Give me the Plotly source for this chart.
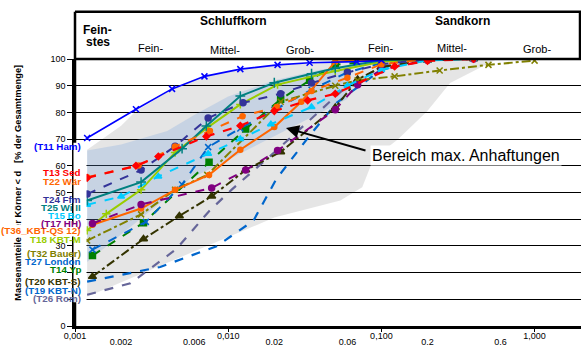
import plotly.graph_objects as go
import numpy as np

# ---------------- data ----------------
series_names = ["T11 Ham", "T13 Sed", "T22 Wär", "T24 Ffm", "T25 Wi II", "T15 Bo", "T17 HH",
                "T36_KBT-QS 12", "T18 KBT-M", "T32 Bauer", "T27 London", "T14 Yp",
                "T20 KBT-S", "T19 KBT-N", "T26 Rom"]

t11_d = [0.0012, 0.0025, 0.0043, 0.007, 0.012, 0.021, 0.034, 0.069, 0.1]
t11_p = [70.4, 81.2, 88.8, 93.5, 96.2, 97.8, 98.6, 99.0, 99.5]
t13_d = [0.0012, 0.0025, 0.0035, 0.0072, 0.012, 0.02, 0.033, 0.05, 0.122, 0.2, 0.4]
t13_p = [55.5, 60, 63.5, 71, 75, 80.5, 84.5, 87, 97.2, 99.3, 100]
t22_d = [0.0012, 0.0026, 0.0045, 0.0076, 0.0124, 0.0207, 0.035, 0.06, 0.1, 0.2]
t22_p = [55.7, 60.1, 67.2, 73, 78.6, 82, 88, 93, 98, 100]
t24_d = [0.0012, 0.0027, 0.0045, 0.0074, 0.0125, 0.022, 0.035, 0.06, 0.1, 0.2]
t24_p = [49.4, 58.4, 67.3, 77.9, 83.6, 87, 91, 95, 98, 100]
t25_d = [0.0012, 0.0027, 0.005, 0.0072, 0.012, 0.02, 0.035, 0.05, 0.1, 0.2]
t25_p = [47, 53.9, 66.4, 74.9, 86.1, 91.1, 94.5, 96.5, 99.5, 100]
t15_d = [0.0012, 0.002, 0.0035, 0.0074, 0.012, 0.019, 0.035, 0.06, 0.1, 0.2, 0.4]
t15_p = [45.4, 48.5, 56, 64.5, 70, 75.6, 82, 90, 96, 99.5, 100]
t17_d = [0.0013, 0.0027, 0.0078, 0.013, 0.021, 0.05, 0.07, 0.1, 0.2, 0.4]
t17_p = [38.4, 45.5, 51.7, 58.4, 65.7, 81, 90.4, 96, 99.5, 100]
t36_d = [0.0013, 0.0027, 0.0045, 0.0075, 0.012, 0.02, 0.03, 0.05, 0.1]
t36_p = [37.9, 44, 51, 56.6, 66, 74.5, 84, 99, 100]
t18_d = [0.0012, 0.0016, 0.0027, 0.0045, 0.0072, 0.012, 0.021, 0.05, 0.1, 0.2]
t18_p = [35.8, 42, 51, 65, 74, 83, 90.4, 95.5, 99, 100]
t32_d = [0.0012, 0.0027, 0.0045, 0.0073, 0.022, 0.05, 0.07, 0.122, 0.24, 0.5, 1.0]
t32_p = [32, 41.8, 51, 56.6, 84, 90, 92, 93.5, 95.7, 97.8, 99.4]
t27_d = [0.0013, 0.0029, 0.005, 0.0074, 0.012, 0.02, 0.035, 0.06, 0.1, 0.2]
t27_p = [28.6, 39, 53, 67, 74, 81, 88.5, 95, 98.5, 100]
t14_d = [0.0013, 0.0028, 0.0075, 0.013, 0.022, 0.034, 0.05, 0.1, 0.2]
t14_p = [26.4, 38.7, 61.3, 73.8, 84.9, 92, 97.8, 99.5, 100]
t20_d = [0.0013, 0.0028, 0.0048, 0.0078, 0.013, 0.022, 0.05, 0.07, 0.1, 0.2, 0.4]
t20_p = [18.5, 32.6, 41.2, 48.6, 58.4, 65.2, 81.8, 92.3, 97, 99.5, 100]
t19_d = [0.0012, 0.0036, 0.0084, 0.0146, 0.0206, 0.034, 0.051, 0.1, 0.2]
t19_p = [16.6, 22.1, 29.9, 39.4, 55, 71.3, 83.6, 96, 100]
t26_d = [0.0012, 0.0023, 0.0039, 0.0046, 0.0075, 0.0105, 0.02, 0.06, 0.1, 0.2]
t26_p = [11.7, 16, 25.8, 28.9, 43, 51, 65, 90, 97, 100]

# envelope "Bereich max. Anhaftungen"
env_hi_d = [0.0012, 0.002, 0.0025, 0.0043, 0.007, 0.012, 0.021, 0.034, 0.07, 0.1, 0.2, 0.57]
env_hi_p = [66, 75, 80.5, 88.6, 93.3, 96, 97.6, 98.4, 98.9, 99.6, 100, 100]
env_lo_d = [0.0012, 0.02, 0.054, 0.075, 0.089, 0.129, 0.199, 0.281, 0.57]
env_lo_p = [11, 40.6, 47, 52, 62.7, 70, 80.4, 91, 100]
band_hi_d = [0.0012, 0.002, 0.004, 0.006, 0.01, 0.02, 0.04, 0.06]
band_hi_p = [65.7, 68, 73, 79, 86, 92, 96, 97.5]
band_lo_d = [0.0012, 0.0056, 0.02, 0.06]
band_lo_p = [24, 55, 71, 85]

x_major_ticks = [0.001, 0.01, 0.1, 1.0]
x_major_text = ["0,001", "0,010", "0,100", "1,000"]
x_minor_ticks = [0.002, 0.006, 0.02, 0.06, 0.2, 0.6, 2]
x_minor_text = ["0.002", "0.006", "0.02", "0.06", "0.2", "0.6", "2"]
y_ticks = [0, 10, 20, 30, 40, 50, 60, 70, 80, 90, 100]
y_text = ["0", "", "", "30", "", "50", "60", "70", "80", "90", "100"]

# ---------------- styles ----------------
FONT = "Liberation Sans, Arial, sans-serif"
W, H = 581, 347
ML, MR, MT, MB = 75, 0, 59, 17
PW, PH = W - ML - MR, H - MT - MB

def px2paper_x(px):
    return (px - ML) / PW

def px2paper_y(py):
    return (H - MB - py) / PH

styles = {
    "T11 Ham":       dict(color="#0000FF", dash="solid", symbol="x-thin", width=1.6, size=6),
    "T13 Sed":       dict(color="#FF0000", dash="dash", symbol="diamond", width=2.2, size=5),
    "T22 Wär":       dict(color="#FF6600", dash="dash", symbol="circle", width=2.0, size=5),
    "T24 Ffm":       dict(color="#333399", dash="dash", symbol="circle", width=2.0, size=6),
    "T25 Wi II":     dict(color="#008080", dash="solid", symbol="cross-thin", width=2.0, size=7),
    "T15 Bo":        dict(color="#00CCFF", dash="dash", symbol="triangle-up", width=2.0, size=6),
    "T17 HH":        dict(color="#800080", dash="dash", symbol="circle", width=2.0, size=6),
    "T36_KBT-QS 12": dict(color="#FF6600", dash="solid", symbol="circle", width=2.0, size=5),
    "T18 KBT-M":     dict(color="#99CC00", dash="solid", symbol="cross-thin", width=2.0, size=6),
    "T32 Bauer":     dict(color="#808000", dash="dashdot", symbol="x-thin", width=2.0, size=6),
    "T27 London":    dict(color="#0066CC", dash="dash", symbol="x-thin", width=2.0, size=6),
    "T14 Yp":        dict(color="#008000", dash="dash", symbol="square", width=2.0, size=6),
    "T20 KBT-S":     dict(color="#333300", dash="dashdot", symbol="triangle-up", width=2.0, size=7),
    "T19 KBT-N":     dict(color="#0066CC", dash="dash", symbol=None, width=2.2, size=0),
    "T26 Rom":       dict(color="#666699", dash="dash", symbol=None, width=2.2, size=0),
}
series_data = {
    "T11 Ham": (t11_d, t11_p), "T13 Sed": (t13_d, t13_p), "T22 Wär": (t22_d, t22_p),
    "T24 Ffm": (t24_d, t24_p), "T25 Wi II": (t25_d, t25_p), "T15 Bo": (t15_d, t15_p),
    "T17 HH": (t17_d, t17_p), "T36_KBT-QS 12": (t36_d, t36_p), "T18 KBT-M": (t18_d, t18_p),
    "T32 Bauer": (t32_d, t32_p), "T27 London": (t27_d, t27_p), "T14 Yp": (t14_d, t14_p),
    "T20 KBT-S": (t20_d, t20_p), "T19 KBT-N": (t19_d, t19_p), "T26 Rom": (t26_d, t26_p),
}
label_text = {"T11 Ham": "(T11 Ham)", "T17 HH": "(T17 HH)", "T36_KBT-QS 12": "(T36_KBT-QS 12)",
              "T32 Bauer": "(T32 Bauer)", "T20 KBT-S": "(T20 KBT-S)", "T19 KBT-N": "(T19 KBT-N)",
              "T26 Rom": "(T26 Rom)"}
label_y_px = dict(zip(series_names, [148.3, 174.3, 183.3, 201.7, 210, 218.3, 226, 233.3, 241.7,
                                     256.7, 264.3, 272.7, 285.3, 294, 301.7]))

fig = go.Figure()

fig.add_trace(go.Scatter(x=env_hi_d + env_lo_d[::-1], y=env_hi_p + env_lo_p[::-1], fill="toself",
                         fillcolor="rgba(0,0,0,0.10)", line=dict(width=0), mode="lines",
                         hoverinfo="skip", showlegend=False))
fig.add_trace(go.Scatter(x=band_hi_d + band_lo_d[::-1], y=band_hi_p + band_lo_p[::-1], fill="toself",
                         fillcolor="rgba(110,158,222,0.25)", line=dict(width=0), mode="lines",
                         hoverinfo="skip", showlegend=False))

for name in series_names[::-1]:
    d, p = series_data[name]
    st = styles[name]
    if st["symbol"]:
        mode = "lines+markers"
        marker = dict(symbol=st["symbol"], size=st["size"], color=st["color"],
                      line=dict(color=st["color"], width=1.5))
    else:
        mode = "lines"
        marker = None
    fig.add_trace(go.Scatter(x=d, y=p, mode=mode, name=name,
                             line=dict(color=st["color"], dash=st["dash"], width=st["width"]),
                             marker=marker, showlegend=False, hoverinfo="skip"))

fig.add_trace(go.Scatter(x=[0.01], y=[-10], xaxis="x2", mode="markers",
                         marker=dict(opacity=0), showlegend=False, hoverinfo="skip"))

shapes = []
black_thin = [0.007, 0.008, 0.01, 0.03, 0.07, 0.3]
black_bold = [0.006, 0.02, 0.2, 0.6]
grey = [0.003, 0.004, 0.005, 0.009, 0.04, 0.05, 0.08, 0.09, 0.1, 0.4, 0.5, 0.7, 0.8, 0.9, 1.0]
for v in grey:
    shapes.append(dict(type="line", xref="x", yref="paper", x0=np.log10(v), x1=np.log10(v), y0=0, y1=1,
                       line=dict(color="#8c8c8c", width=2), layer="below"))
for v in black_thin:
    shapes.append(dict(type="line", xref="x", yref="paper", x0=np.log10(v), x1=np.log10(v), y0=0, y1=1,
                       line=dict(color="#000000", width=1.3), layer="below"))
for v in black_bold:
    shapes.append(dict(type="line", xref="x", yref="paper", x0=np.log10(v), x1=np.log10(v), y0=0, y1=1,
                       line=dict(color="#000000", width=2.2), layer="below"))
top = px2paper_y(11)
for v in [0.002, 0.06]:
    shapes.append(dict(type="line", xref="x", yref="paper", x0=np.log10(v), x1=np.log10(v), y0=0, y1=top,
                       line=dict(color="#000000", width=3), layer="above"))
shapes.append(dict(type="line", xref="paper", yref="paper", x0=0, x1=px2paper_x(581), y0=top, y1=top,
                   line=dict(color="#000000", width=2.5), layer="above"))
shapes.append(dict(type="line", xref="paper", yref="paper", x0=0, x1=px2paper_x(581), y0=1, y1=1,
                   line=dict(color="#000000", width=2.5), layer="above"))
shapes.append(dict(type="line", xref="paper", yref="paper", x0=0, x1=0, y0=0, y1=top,
                   line=dict(color="#000000", width=2.5), layer="above"))
shapes.append(dict(type="line", xref="paper", yref="paper", x0=px2paper_x(580), x1=px2paper_x(580), y0=1, y1=top,
                   line=dict(color="#000000", width=2.5), layer="above"))
shapes.append(dict(type="rect", xref="paper", yref="paper", x0=px2paper_x(73.5), x1=px2paper_x(86.5),
                   y0=px2paper_y(306), y1=px2paper_y(144), fillcolor="white", line=dict(width=0), layer="above"))

annotations = []
def hdr(text, px, py, size=12, bold=False):
    annotations.append(dict(text=f"<b>{text}</b>" if bold else text, xref="paper", yref="paper",
                            x=px2paper_x(px), y=px2paper_y(py), showarrow=False,
                            font=dict(family=FONT, size=size, color="#000"), xanchor="center", yanchor="middle"))
hdr("Fein-", 97.5, 29.5, 12, True)
hdr("stes", 97.5, 42, 12, True)
hdr("Schluffkorn", 233, 20, 12, True)
hdr("Sandkorn", 462, 20, 12, True)
hdr("Fein-", 150.5, 47.5, 11)
hdr("Mittel-", 225, 49.5, 11)
hdr("Grob-", 300, 49.5, 11)
hdr("Fein-", 380, 47.5, 11)
hdr("Mittel-", 451.5, 47.5, 11)
hdr("Grob-", 536.5, 49, 11)

annotations.append(dict(text="<b>Massenanteile der Körner < d   [% der Gesamtmenge]</b>", xref="paper", yref="paper",
                        x=px2paper_x(18), y=px2paper_y(184.5), textangle=-90, showarrow=False,
                        xanchor="center", yanchor="middle", font=dict(family=FONT, size=9.3, color="#000")))

order = ["T36_KBT-QS 12"] + [n for n in series_names if n != "T36_KBT-QS 12"]
for name in order:
    annotations.append(dict(text=f"<b>{label_text.get(name, name)}</b>", xref="paper", yref="paper",
                            x=px2paper_x(82), y=px2paper_y(label_y_px[name]), xanchor="right", yanchor="middle",
                            showarrow=False, borderpad=0,
                            bgcolor="white" if name == "T36_KBT-QS 12" else "rgba(0,0,0,0)",
                            font=dict(family=FONT, size=9.8, color=styles[name]["color"])))

annotations.append(dict(text="", xref="paper", yref="paper", x=px2paper_x(286), y=px2paper_y(129),
                        ax=367 - 286, ay=152 - 129, showarrow=True, arrowhead=2, arrowsize=1.3,
                        arrowwidth=2, arrowcolor="#000"))
annotations.append(dict(text="Bereich max. Anhaftungen", xref="paper", yref="paper",
                        x=px2paper_x(466), y=px2paper_y(157), showarrow=False, bgcolor="white",
                        font=dict(family=FONT, size=16, color="#000"), xanchor="center", yanchor="middle"))

rng = [-3, np.log10(2) + 0.002]
fig.update_layout(
    width=W, height=H, margin=dict(l=ML, r=MR, t=MT, b=MB),
    paper_bgcolor="white", plot_bgcolor="white", showlegend=False,
    font=dict(family=FONT, size=9, color="#000"),
    xaxis=dict(type="log", range=rng, showgrid=False, zeroline=False, showline=True, linecolor="#000",
               linewidth=2.5, tickvals=x_major_ticks, ticktext=x_major_text, ticks="outside", ticklen=3,
               tickcolor="#000", tickfont=dict(size=9, family=FONT), ticklabelstandoff=-4),
    xaxis2=dict(type="log", range=rng, overlaying="x", anchor="y", side="bottom", showgrid=False,
                zeroline=False, showline=False, tickvals=x_minor_ticks, ticktext=x_minor_text, ticks="",
                ticklabelstandoff=9, tickfont=dict(size=9, family=FONT)),
    yaxis=dict(range=[0, 100], tickvals=y_ticks, ticktext=y_text, showgrid=True, gridcolor="#000",
               gridwidth=1.2, zeroline=False, showline=True, linecolor="#000", linewidth=2.5,
               ticks="outside", ticklen=5, tickcolor="#000", tickfont=dict(size=9, family=FONT)),
    shapes=shapes, annotations=annotations,
)
fig.write_html("out.html", config={"displayModeBar": False},
               post_script="document.body.style.margin='0';document.body.style.padding='0';document.body.style.overflow='hidden';")
